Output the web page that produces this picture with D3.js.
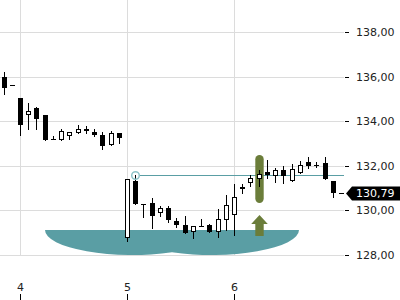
<!DOCTYPE html>
<html>
<head>
<meta charset="utf-8">
<script src="https://cdn.jsdelivr.net/npm/d3@7"></script>
<style>
  body { margin: 0; background: #fff; }
  svg { display: block; font-family: "DejaVu Sans", sans-serif; }
</style>
</head>
<body>
<svg id="chart"></svg>
<script>
// hourly candles, "day hour"
const times = [
  "3 19", "3 20",
  "4 8", "4 9", "4 10", "4 11", "4 12", "4 13", "4 14", "4 15", "4 16", "4 17", "4 18", "4 19", "4 20",
  "5 8", "5 9", "5 10", "5 11", "5 12", "5 13", "5 14", "5 15", "5 16", "5 17", "5 18", "5 19", "5 20",
  "6 8", "6 9", "6 10", "6 11", "6 12", "6 13", "6 14", "6 15", "6 16", "6 17", "6 18", "6 19", "6 20"
];
const open = [135.99, 135.62,
  135.02, 134.26, 134.57, 134.26, 133.18, 133.15, 133.33, 133.45, 133.66, 133.51, 133.39, 132.92, 133.48,
  128.74, 131.33, 130.30, 130.31, 129.87, 130.11, 129.54, 129.34, 129.03, 129.28, 129.34, 129.03, 129.55,
  129.79, 130.96, 131.23, 131.42, 131.73, 131.53, 131.83, 131.33, 131.68, 132.16, 132.05, 132.13, 131.33];
const high = [136.20, 135.62,
  135.02, 134.80, 134.63, 134.26, 133.33, 133.63, 133.51, 133.81, 133.78, 133.66, 133.52, 133.55, 133.48,
  131.41, 131.58, 130.30, 130.56, 130.18, 130.18, 129.66, 129.76, 129.31, 129.63, 129.39, 130.06, 130.67,
  131.17, 131.18, 131.60, 131.83, 132.28, 131.91, 131.98, 132.09, 132.23, 132.38, 132.18, 132.40, 131.33];
const low = [135.20, 135.62,
  133.37, 133.66, 133.67, 133.15, 133.18, 133.15, 133.21, 133.45, 133.45, 133.33, 132.76, 132.92, 133.03,
  128.61, 130.29, 129.70, 129.21, 129.73, 129.48, 129.24, 128.98, 128.76, 129.28, 129.01, 128.79, 129.13,
  128.88, 130.78, 131.08, 131.08, 131.46, 131.28, 131.23, 131.33, 131.68, 131.91, 131.93, 131.41, 130.58];
const close = [135.47, 135.62,
  133.85, 134.47, 134.11, 133.15, 133.18, 133.55, 133.51, 133.63, 133.54, 133.40, 132.88, 133.48, 133.24,
  131.41, 130.29, 130.26, 129.73, 130.11, 129.58, 129.33, 128.98, 129.31, 129.27, 129.01, 129.61, 130.24,
  130.59, 131.05, 131.46, 131.65, 131.60, 131.83, 131.56, 131.87, 132.05, 131.98, 132.05, 131.41, 130.79];

const dayTicks = [4, 5, 6];
const priceTicks = [128, 130, 132, 134, 136, 138];
const lastPrice = 130.79;

// resistance line from the high of this candle
const resistanceFrom = "5 9";
const resistanceLevel = 131.58;

// rounding bottom pattern (days / prices)
const patternLeft = 4.229;
const patternRight = 6.611;
const lobeRadius = 0.821;
const patternTop = 129.13;
const patternBottom = 127.99;

// breakout signal
const signalAt = "6 11";
const signalRange = [130.33, 132.47];
const arrowTip = 129.78, arrowHead = 129.40, arrowBase = 128.84;

const width = 400, height = 300;
const plotW = 344, plotH = 256;
const teal = "#5a9ea4";
const olive = "#6b7d3a";

const toDay = s => {
    const [d, h] = s.split(" ").map(Number);
    return d + (h - 8) / 13;
};

const x = d3.scaleLinear().domain([4, 6]).rangeRound([20, 234]);
const y = d3.scaleLinear().domain([128, 138]).rangeRound([255, 32]);

const svg = d3.select("#chart")
    .attr("width", width)
    .attr("height", height);

// grid
svg.append("g")
    .selectAll("line")
    .data(priceTicks)
    .join("line")
    .attr("x1", 0)
    .attr("x2", plotW)
    .attr("y1", d => y(d) + 0.5)
    .attr("y2", d => y(d) + 0.5)
    .attr("stroke", "#dcdcdc");

svg.append("g")
    .selectAll("line")
    .data(dayTicks)
    .join("line")
    .attr("x1", d => x(d) + 0.5)
    .attr("x2", d => x(d) + 0.5)
    .attr("y1", 0)
    .attr("y2", plotH)
    .attr("stroke", "#dcdcdc");

// pattern shape: two half ellipses
const xL = x(patternLeft), xR = x(patternRight);
const c1 = x(patternLeft + lobeRadius), c2 = x(patternRight - lobeRadius);
const rx = c1 - xL;
const yT = y(patternTop), ry = y(patternBottom) - y(patternTop);
const xJ = (c1 + c2) / 2;
const yJ = yT + ry * Math.sqrt(1 - Math.pow((xJ - c1) / rx, 2));

svg.append("path")
    .attr("d", "M" + xL + "," + yT +
        "A" + rx + "," + ry + " 0 0 0 " + xJ + "," + yJ +
        "A" + rx + "," + ry + " 0 0 0 " + xR + "," + yT + "Z")
    .attr("fill", teal);

// arrow
const ax = x(toDay(signalAt)) + 0.5;
svg.append("path")
    .attr("d", d3.line()([
        [ax, y(arrowTip)],
        [ax + 8.3, y(arrowHead)],
        [ax + 4.2, y(arrowHead)],
        [ax + 4.2, y(arrowBase)],
        [ax - 4.2, y(arrowBase)],
        [ax - 4.2, y(arrowHead)],
        [ax - 8.3, y(arrowHead)]
    ]) + "Z")
    .attr("fill", olive);

// resistance line
const rx0 = x(toDay(resistanceFrom)) + 0.5;
svg.append("line")
    .attr("x1", rx0 + 4)
    .attr("x2", plotW)
    .attr("y1", y(resistanceLevel) + 0.5)
    .attr("y2", y(resistanceLevel) + 0.5)
    .attr("stroke", teal);

// signal pill
svg.append("rect")
    .attr("x", ax - 4.2)
    .attr("width", 8.4)
    .attr("y", y(signalRange[1]))
    .attr("height", y(signalRange[0]) - y(signalRange[1]))
    .attr("rx", 4.2)
    .attr("fill", olive);

// candles
const candles = svg.append("g");
times.forEach((t, i) => {
    const cx = x(toDay(t)) + 0.5;
    const yo = y(open[i]), yc = y(close[i]);
    candles.append("line")
        .attr("x1", cx).attr("x2", cx)
        .attr("y1", y(high[i])).attr("y2", y(low[i]) + 1)
        .attr("stroke", "#000");
    if (Math.abs(yo - yc) < 2) {
        candles.append("line")
            .attr("x1", cx - 2.5).attr("x2", cx + 2.5)
            .attr("y1", yo + 0.5).attr("y2", yo + 0.5)
            .attr("stroke", "#000");
    } else {
        candles.append("rect")
            .attr("x", cx - 2)
            .attr("width", 4)
            .attr("y", Math.min(yo, yc) + 0.5)
            .attr("height", Math.abs(yo - yc) - 1)
            .attr("fill", close[i] >= open[i] ? "#fff" : "#000")
            .attr("stroke", "#000");
    }
});

svg.append("circle")
    .attr("cx", rx0)
    .attr("cy", y(resistanceLevel) + 0.5)
    .attr("r", 3.8)
    .attr("fill", "none")
    .attr("stroke", "#8fc4c9")
    .attr("stroke-width", 1.5);

// axes
const yAxis = svg.append("g")
    .attr("transform", "translate(345,0)")
    .call(d3.axisRight(y)
        .tickValues(priceTicks)
        .tickSize(4)
        .tickPadding(7)
        .tickFormat(d => d3.format(".2f")(d).replace(".", ",")));
yAxis.select(".domain").remove();

const xAxis = svg.append("g")
    .attr("transform", "translate(0," + height + ")")
    .call(d3.axisTop(x)
        .tickValues(dayTicks)
        .tickSize(6)
        .tickPadding(3)
        .tickFormat(d3.format("d")));
xAxis.select(".domain").remove();

svg.selectAll(".tick text")
    .attr("font-family", "DejaVu Sans")
    .attr("font-size", 11)
    .attr("fill", "#222");

// last price tag
const yl = y(lastPrice) + 0.5;
svg.append("line")
    .attr("x1", 339).attr("x2", 344)
    .attr("y1", yl).attr("y2", yl)
    .attr("stroke", "#000");
svg.append("path")
    .attr("d", d3.line()([[346, yl], [352, yl - 7], [400, yl - 7], [400, yl + 7], [352, yl + 7]]) + "Z")
    .attr("fill", "#000");
svg.append("text")
    .attr("x", 356)
    .attr("y", yl)
    .attr("dy", "0.35em")
    .attr("font-size", 11)
    .attr("fill", "#fff")
    .text(d3.format(".2f")(lastPrice).replace(".", ","));
</script>
</body>
</html>
